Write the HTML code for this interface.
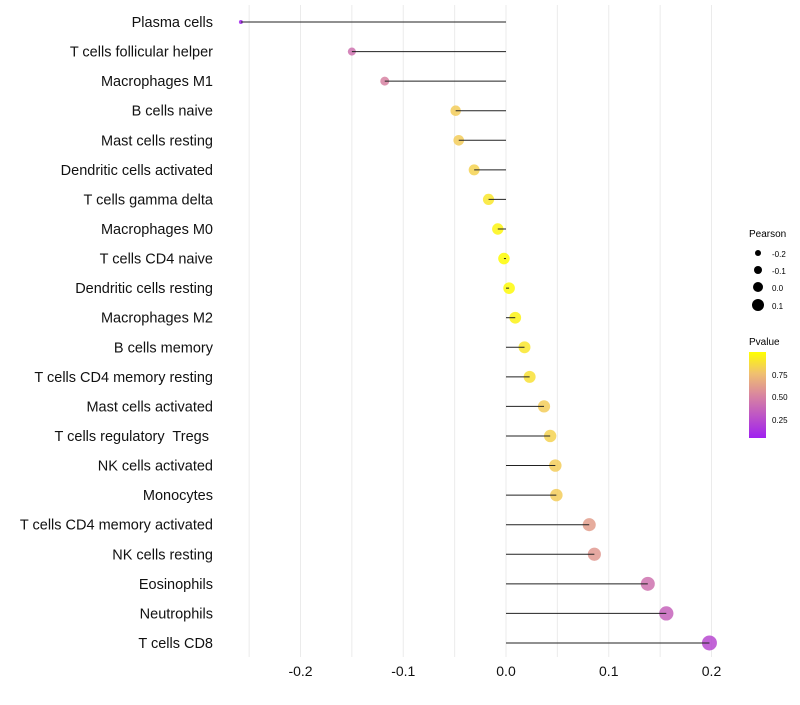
<!DOCTYPE html>
<html><head><meta charset="utf-8"><style>
body{margin:0;background:#fff;font-family:"Liberation Sans",sans-serif;}
</style></head><body>
<svg id="chart" width="800" height="700" xmlns="http://www.w3.org/2000/svg" font-family="Liberation Sans, sans-serif">
<g id="grid"></g>
<g id="ylabels"></g>
<g id="marks"></g>
<g id="xticks"></g>
<g>
<text x="749" y="237" font-size="10">Pearson</text>
<circle cx="758" cy="253" r="3"/><text x="772" y="257" font-size="8">-0.2</text>
<circle cx="758" cy="270" r="4"/><text x="772" y="274" font-size="8">-0.1</text>
<circle cx="758" cy="287" r="5"/><text x="772" y="291" font-size="8">0.0</text>
<circle cx="758" cy="305" r="6"/><text x="772" y="309" font-size="8">0.1</text>
</g>
<g>
<defs><linearGradient id="pg" x1="0" y1="1" x2="0" y2="0">
<stop offset="0" stop-color="#a020f0"/><stop offset="0.5" stop-color="#d9869f"/><stop offset="0.75" stop-color="#f0c070"/><stop offset="1" stop-color="#ffff00"/></linearGradient></defs>
<text x="749" y="345" font-size="10">Pvalue</text>
<rect x="749" y="352" width="17" height="86" fill="url(#pg)"/>
<text x="772" y="378" font-size="8">0.75</text>
<text x="772" y="400" font-size="8">0.50</text>
<text x="772" y="423" font-size="8">0.25</text>
</g>
</svg>
<script>
const categories=["Plasma cells","T cells follicular helper","Macrophages M1","B cells naive","Mast cells resting","Dendritic cells activated","T cells gamma delta","Macrophages M0","T cells CD4 naive","Dendritic cells resting","Macrophages M2","B cells memory","T cells CD4 memory resting","Mast cells activated","T cells regulatory  Tregs ","NK cells activated","Monocytes","T cells CD4 memory activated","NK cells resting","Eosinophils","Neutrophils","T cells CD8"];
const pearson=[-0.258,-0.150,-0.118,-0.049,-0.046,-0.031,-0.017,-0.008,-0.002,0.003,0.009,0.018,0.023,0.037,0.043,0.048,0.049,0.081,0.086,0.138,0.156,0.198];
const pvalue=[0.02,0.40,0.48,0.80,0.80,0.82,0.90,0.96,0.99,0.98,0.95,0.90,0.88,0.80,0.82,0.80,0.80,0.60,0.58,0.40,0.33,0.20];
const xTicks=[-0.2,-0.1,0,0.1,0.2];
const xTickLabels=["-0.2","-0.1","0.0","0.1","0.2"];
const NS="http://www.w3.org/2000/svg";
const x=v=>506+v*1027.5;
const y=i=>22+i*29.57;
const rad=v=>Math.sqrt(Math.max(3,33.4+114*v));
function lerp(a,b,t){return a.map((c,i)=>Math.round(c+(b[i]-c)*t));}
function col(p){const s=[[0,[160,32,240]],[0.5,[217,134,159]],[0.75,[240,192,112]],[1,[255,255,0]]];
for(let k=1;k<s.length;k++){if(p<=s[k][0]){const t=(p-s[k-1][0])/(s[k][0]-s[k-1][0]);const c=lerp(s[k-1][1],s[k][1],t);return `rgb(${c})`;}}return "rgb(255,255,0)";}
function mk(t,a,p){const e=document.createElementNS(NS,t);for(const k in a)e.setAttribute(k,a[k]);p.appendChild(e);return e;}
const grid=document.getElementById('grid'),yl=document.getElementById('ylabels'),mks=document.getElementById('marks'),xt=document.getElementById('xticks');
for(let v=-0.25;v<=0.2001;v+=0.05){const g=mk('line',{x1:x(v),x2:x(v),y1:5,y2:657,stroke:'#ebebeb','stroke-width':1},grid);

}
categories.forEach((c,i)=>{const t=mk('text',{x:213,y:y(i)+5,'text-anchor':'end','font-size':14.5,fill:'#111','xml:space':'preserve'},yl);t.style.whiteSpace='pre';t.textContent=c;


const d=mk('circle',{cx:x(pearson[i]),cy:y(i),r:rad(pearson[i]),fill:col(pvalue[i]),'fill-opacity':0.85},mks);


const l=mk('line',{x1:x(0),x2:x(pearson[i]),y1:y(i),y2:y(i),stroke:'#222','stroke-width':1},mks);

});
xTicks.forEach((v,i)=>{const t=mk('text',{x:x(v),y:676,'text-anchor':'middle','font-size':14,fill:'#111'},xt);t.textContent=xTickLabels[i];

});
</script>
</body></html>
